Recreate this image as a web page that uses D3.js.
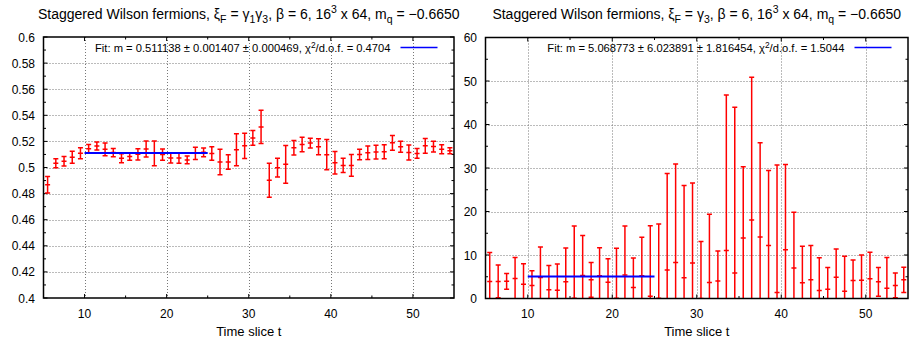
<!DOCTYPE html>
<html>
<head>
<meta charset="utf-8">
<script src="https://cdn.jsdelivr.net/npm/d3@7"></script>
<style>
  body { margin: 0; background: #fff; }
  svg { display: block; font-family: "Liberation Sans", Arial, Helvetica, sans-serif; }
  .grid { stroke: #777; stroke-width: 1; stroke-dasharray: 1,2; }
  .border { fill: none; stroke: #000; stroke-width: 1.5; }
</style>
</head>
<body>
<svg width="909" height="339"></svg>
<script>
// time slices (both panels share them)
var timeSlices = [5.5, 6.5, 7.5, 8.5, 9.5, 10.5, 11.5, 12.5, 13.5, 14.5,
  15.5, 16.5, 17.5, 18.5, 19.5, 20.5, 21.5, 22.5, 23.5, 24.5,
  25.5, 26.5, 27.5, 28.5, 29.5, 30.5, 31.5, 32.5, 33.5, 34.5,
  35.5, 36.5, 37.5, 38.5, 39.5, 40.5, 41.5, 42.5, 43.5, 44.5,
  45.5, 46.5, 47.5, 48.5, 49.5, 50.5, 51.5, 52.5, 53.5, 54.5];

// left panel: xi_F = gamma1 gamma3
var massLeft = [0.4868, 0.5033, 0.5048, 0.5079, 0.5109, 0.5144, 0.5165, 0.5139, 0.5114, 0.5071,
  0.5084, 0.5101, 0.5142, 0.5109, 0.5099, 0.5073, 0.5073, 0.5058, 0.5109, 0.5116,
  0.5107, 0.5042, 0.5042, 0.5136, 0.5166, 0.5227, 0.5311, 0.4902, 0.4999, 0.5024,
  0.5151, 0.5176, 0.5187, 0.5159, 0.5098, 0.5037, 0.5016, 0.5016, 0.5100, 0.5113,
  0.5118, 0.5121, 0.5189, 0.5159, 0.5115, 0.5108, 0.5166, 0.5160, 0.5140, 0.5129];
var errLeft = [0.0063, 0.0034, 0.0037, 0.0046, 0.0042, 0.0032, 0.0030, 0.0049, 0.0032, 0.0035,
  0.0028, 0.0043, 0.0061, 0.0095, 0.0043, 0.0039, 0.0040, 0.0030, 0.0047, 0.0034,
  0.0052, 0.0098, 0.0055, 0.0123, 0.0097, 0.0057, 0.0128, 0.0130, 0.0071, 0.0145,
  0.0055, 0.0056, 0.0037, 0.0061, 0.0116, 0.0086, 0.0055, 0.0083, 0.0040, 0.0052,
  0.0053, 0.0053, 0.0057, 0.0042, 0.0057, 0.0038, 0.0056, 0.0042, 0.0034, 0.0023];

// right panel: xi_F = gamma3
var massRight = [3.92, 3.92, 3.95, 4.6, 3.3, 3.0, 4.84, 2.0, 1.92, 3.84,
  0.05, 5.3, 4.3, 5.22, 3.76, 0.05, 5.38, 2.53, 5.22, 0.54,
  0.05, 6.53, 8.3, 4.76, 8.14, 0.0, 3.69, 4.0, 11.06, 5.84,
  13.9, 18.05, 14.13, 12.2, 1.38, 11.2, 7.0, 3.6, 4.3, 1.84,
  2.15, 4.9, 1.69, 4.15, 4.22, 4.53, 3.84, 2.38, 3.0, 4.3];
var errRight = [6.68, 3.76, 1.8, 4.85, 4.7, 3.37, 7.0, 5.6, 6.0, 7.76,
  16.6, 9.2, 4.0, 6.45, 5.38, 11.5, 11.3, 6.76, 8.84, 16.2,
  17.1, 22.2, 22.6, 21.2, 18.4, 13.1, 15.7, 6.9, 35.7, 38.1,
  16.4, 32.8, 21.7, 17.2, 29.3, 19.6, 12.8, 8.4, 7.9, 7.5,
  5.0, 6.5, 8.0, 4.7, 5.8, 6.1, 3.3, 7.07, 2.85, 2.9];

// fits
var fitRange = [10, 25];
var fitLeft = 0.511138;
var fitRight = 5.068773;

// axis ticks / labels
var xMajor = [10, 20, 30, 40, 50];
var xMinor = [15, 25, 35, 45];
var yMajorLeft = [0.4, 0.42, 0.44, 0.46, 0.48, 0.5, 0.52, 0.54, 0.56, 0.58, 0.6];
var yLabelsLeft = ["0.4", "0.42", "0.44", "0.46", "0.48", "0.5", "0.52", "0.54", "0.56", "0.58", "0.6"];
var yMinorLeft = [0.41, 0.43, 0.45, 0.47, 0.49, 0.51, 0.53, 0.55, 0.57, 0.59];
var yMajorRight = [0, 10, 20, 30, 40, 50, 60];
var yLabelsRight = ["0", "10", "20", "30", "40", "50", "60"];
var yMinorRight = [5, 15, 25, 35, 45, 55];

// title and legend pieces: [text, "sub" | "sup" | ""]
var titleLeft = [["Staggered Wilson fermions, \u03be", ""], ["F", "sub"], [" = \u03b3", ""], ["1", "sub"],
  ["\u03b3", ""], ["3", "sub"], [", \u03b2 = 6, 16", ""], ["3", "sup"], [" x 64, m", ""], ["q", "sub"],
  [" = \u22120.6650", ""]];
var titleRight = [["Staggered Wilson fermions, \u03be", ""], ["F", "sub"], [" = \u03b3", ""], ["3", "sub"],
  [", \u03b2 = 6, 16", ""], ["3", "sup"], [" x 64, m", ""], ["q", "sub"], [" = \u22120.6650", ""]];
var legendLeft = [["Fit: m = 0.511138 \u00b1 0.001407 \u00b1 0.000469, \u03c7", ""], ["2", "sup"],
  ["/d.o.f. = 0.4704", ""]];
var legendRight = [["Fit: m = 5.068773 \u00b1 6.023891 \u00b1 1.816454, \u03c7", ""], ["2", "sup"],
  ["/d.o.f. = 1.5044", ""]];

var svg = d3.select("svg");

svg.append("defs");

drawPanel({
  id: "left", x0: 43.5, x1: 454, y0: 298, y1: 37,
  yDomain: [0.4, 0.6], yMajor: yMajorLeft, yLabels: yLabelsLeft, yMinor: yMinorLeft,
  values: massLeft, errors: errLeft, fit: fitLeft,
  title: titleLeft, legend: legendLeft
});

drawPanel({
  id: "right", x0: 485.5, x1: 908, y0: 298.5, y1: 37.5,
  yDomain: [0, 60], yMajor: yMajorRight, yLabels: yLabelsRight, yMinor: yMinorRight,
  values: massRight, errors: errRight, fit: fitRight,
  title: titleRight, legend: legendRight
});

/**
 * Appends text made of normal / subscript / superscript pieces
 * @param sel text selection
 * @param parts list of [text, kind]
 * @param size base font size
 */
function richText(sel, parts, size) {
  var shift = 0;
  parts.forEach(function(p) {
    var t = sel.append("tspan").text(p[0]);
    var target = 0;
    if (p[1] === "sub") {
      target = size * 0.3;
      t.attr("font-size", size * 0.75);
    } else if (p[1] === "sup") {
      target = -size * 0.4;
      t.attr("font-size", size * 0.75);
    }
    if (target !== shift) {
      t.attr("dy", target - shift);
      shift = target;
    }
  });
}

/**
 * Draws one gnuplot-like panel with error bars and a constant fit
 * @param cfg panel settings
 */
function drawPanel(cfg) {
  var g = svg.append("g").attr("id", cfg.id);

  var x = d3.scaleLinear().domain([5, 55]).range([cfg.x0, cfg.x1]);
  var y = d3.scaleLinear().domain(cfg.yDomain).range([cfg.y0, cfg.y1]);

  svg.select("defs").append("clipPath")
    .attr("id", "clip-" + cfg.id)
    .append("rect")
    .attr("x", cfg.x0)
    .attr("y", cfg.y1)
    .attr("width", cfg.x1 - cfg.x0)
    .attr("height", cfg.y0 - cfg.y1);

  // grid
  g.selectAll(".vgrid")
    .data(xMajor)
    .enter().append("line")
    .attr("class", "grid")
    .attr("x1", function(d) { return Math.round(x(d)) + 0.5; })
    .attr("x2", function(d) { return Math.round(x(d)) + 0.5; })
    .attr("y1", cfg.y1)
    .attr("y2", cfg.y0);

  g.selectAll(".hgrid")
    .data(cfg.yMajor.slice(1, -1))
    .enter().append("line")
    .attr("class", "grid")
    .attr("x1", cfg.x0)
    .attr("x2", cfg.x1)
    .attr("y1", function(d) { return Math.round(y(d)) + 0.5; })
    .attr("y2", function(d) { return Math.round(y(d)) + 0.5; });

  // ticks on all four sides, pointing inwards
  var ticks = g.append("g").attr("stroke", "#000").attr("stroke-width", 1);
  function xTicks(list, len) {
    list.forEach(function(d) {
      ticks.append("line").attr("x1", x(d)).attr("x2", x(d)).attr("y1", cfg.y0).attr("y2", cfg.y0 - len);
      ticks.append("line").attr("x1", x(d)).attr("x2", x(d)).attr("y1", cfg.y1).attr("y2", cfg.y1 + len);
    });
  }
  function yTicks(list, len) {
    list.forEach(function(d) {
      ticks.append("line").attr("x1", cfg.x0).attr("x2", cfg.x0 + len).attr("y1", y(d)).attr("y2", y(d));
      ticks.append("line").attr("x1", cfg.x1).attr("x2", cfg.x1 - len).attr("y1", y(d)).attr("y2", y(d));
    });
  }
  xTicks(xMajor, 4);
  xTicks(xMinor, 2.5);
  yTicks(cfg.yMajor, 4);
  yTicks(cfg.yMinor, 2.5);

  // tick labels
  g.selectAll(".xlab")
    .data(xMajor)
    .enter().append("text")
    .attr("x", function(d) { return x(d); })
    .attr("y", 317.5)
    .attr("text-anchor", "middle")
    .attr("font-size", 12)
    .text(function(d) { return d; });

  g.selectAll(".ylab")
    .data(cfg.yMajor)
    .enter().append("text")
    .attr("x", cfg.x0 - 8.5)
    .attr("y", function(d) { return y(d) + 4.5; })
    .attr("text-anchor", "end")
    .attr("font-size", 12)
    .text(function(d, i) { return cfg.yLabels[i]; });

  g.append("text")
    .attr("x", (cfg.x0 + cfg.x1) / 2)
    .attr("y", 336)
    .attr("text-anchor", "middle")
    .attr("font-size", 13)
    .text("Time slice t");

  // title
  var title = g.append("text")
    .attr("x", (cfg.x0 + cfg.x1) / 2)
    .attr("y", 18.5)
    .attr("text-anchor", "middle")
    .attr("font-size", 14);
  richText(title, cfg.title, 14);

  // legend
  var legX = cfg.x1 - 16.5;
  g.append("line")
    .attr("x1", legX - 37)
    .attr("x2", legX)
    .attr("y1", 47.5)
    .attr("y2", 47.5)
    .attr("stroke", "#0000ff")
    .attr("stroke-width", 1.5);
  var leg = g.append("text")
    .attr("x", legX - 47)
    .attr("y", 52)
    .attr("text-anchor", "end")
    .attr("font-size", 11.2);
  richText(leg, cfg.legend, 11.2);

  // data
  var data = timeSlices.map(function(t, i) {
    return { t: t, v: cfg.values[i], e: cfg.errors[i] };
  });
  var marks = g.append("g")
    .attr("clip-path", "url(#clip-" + cfg.id + ")")
    .attr("stroke", "#ff0000")
    .attr("stroke-width", 1.5)
    .attr("fill", "none");

  marks.selectAll(".bar")
    .data(data)
    .enter().append("path")
    .attr("d", function(d) {
      var cx = x(d.t);
      var top = y(d.v + d.e);
      var bot = y(d.v - d.e);
      var c = y(d.v);
      return "M" + cx + "," + top + "V" + bot +
        "M" + (cx - 2.5) + "," + top + "H" + (cx + 2.5) +
        "M" + (cx - 2.5) + "," + bot + "H" + (cx + 2.5) +
        "M" + (cx - 2.5) + "," + c + "H" + (cx + 2.5);
    });

  // fit line
  marks.append("line")
    .attr("x1", x(fitRange[0]))
    .attr("x2", x(fitRange[1]))
    .attr("y1", y(cfg.fit))
    .attr("y2", y(cfg.fit))
    .attr("stroke", "#0000ff")
    .attr("stroke-width", 2);

  // border
  g.append("rect")
    .attr("class", "border")
    .attr("x", cfg.x0)
    .attr("y", cfg.y1)
    .attr("width", cfg.x1 - cfg.x0)
    .attr("height", cfg.y0 - cfg.y1);
}
</script>
</body>
</html>
